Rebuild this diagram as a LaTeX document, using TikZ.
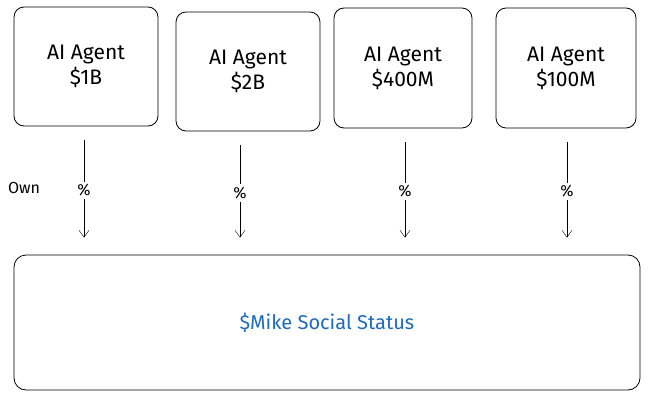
\documentclass[tikz,border=0pt]{standalone}
\usepackage{fontspec}
\setmainfont{Fira Sans}
\usetikzlibrary{arrows.meta}
\tikzset{
  agentbox/.style={draw, thick, rounded corners=10pt, align=center, font=\fontsize{21}{25}\selectfont, inner sep=0pt},
  ownarrow/.style={-{Straight Barb[length=7pt,width=10pt]}, shorten <=14pt, shorten >=17pt},
  pct/.style={fill=white, font=\fontsize{16}{18}\selectfont, inner sep=3pt}
}
\definecolor{statusblue}{HTML}{1E6BB8}
\begin{document}
\begin{tikzpicture}[x=1pt,y=-1pt]
    \useasboundingbox (0,0) rectangle (650,401);

    % Agents
    \node[agentbox, minimum width=144pt, minimum height=119pt] (a1) at (86,66.5) {AI Agent\\\$1B};
    \node[agentbox, minimum width=144pt, minimum height=119pt] (a2) at (248,71.5) {AI Agent\\\$2B};
    \node[agentbox, minimum width=138pt, minimum height=120pt] (a3) at (403,68) {AI Agent\\\$400M};
    \node[agentbox, minimum width=140pt, minimum height=120pt] (a4) at (566,68) {AI Agent\\\$100M};

    % Social status
    \node[draw, thick, rounded corners=12pt, minimum width=626pt, minimum height=135pt,
          text=statusblue, font=\fontsize{20}{24}\selectfont] (status) at (327,322.5) {\$Mike Social Status};

    % Ownership arrows
    \foreach \i/\x in {1/84,2/240,3/405,4/567}
      \draw[ownarrow] (a\i.south -| \x,0) -- node[pct] {\%} (status.north -| \x,0);

    \node[font=\fontsize{16}{18}\selectfont] (own) at (24,188) {Own};
\end{tikzpicture}
\end{document}
